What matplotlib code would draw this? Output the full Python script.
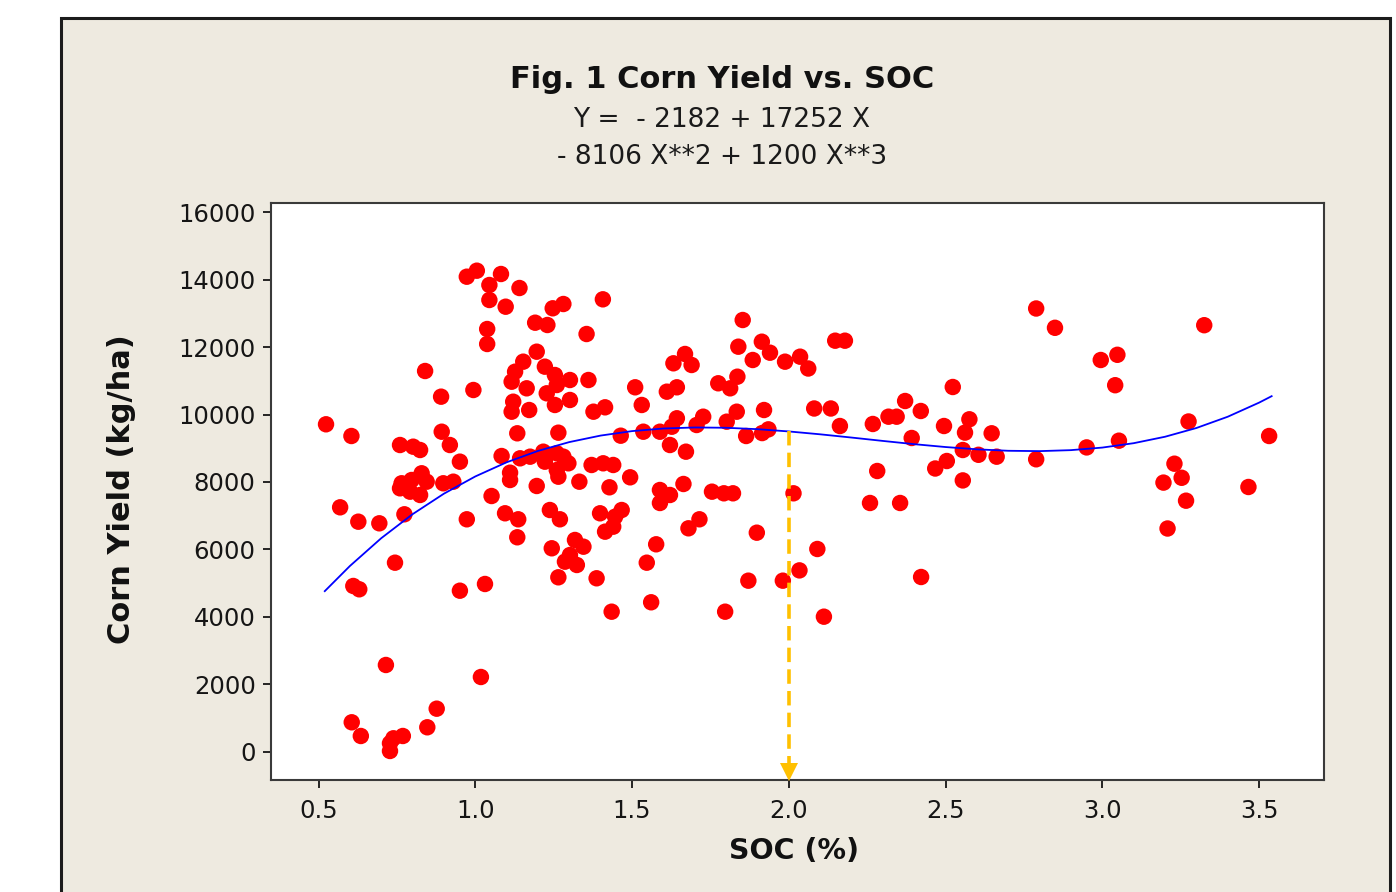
import matplotlib
matplotlib.use("Agg")
import matplotlib.pyplot as plt
from matplotlib.patches import Rectangle

# ---------------- data ----------------
soc = [
    0.524, 0.605, 0.569, 0.627, 0.694, 0.774, 0.744, 0.611, 0.630, 0.715,
    0.606, 0.635, 0.728, 0.728, 0.739, 0.769, 0.847, 0.877, 0.760, 0.802,
    0.824, 0.893, 0.919, 0.951, 0.840, 0.891, 0.765, 0.797, 0.829, 0.845,
    0.824, 0.792, 0.760, 0.898, 0.930, 0.973, 0.973, 1.005, 0.951, 1.018,
    1.082, 1.045, 1.141, 1.045, 1.097, 1.038, 1.038, 0.994, 1.191, 1.196,
    1.153, 1.127, 1.116, 1.164, 1.121, 1.116, 1.172, 1.134, 1.084, 1.143,
    1.175, 1.111, 1.052, 1.111, 1.196, 1.095, 1.137, 1.134, 1.031,
    1.230, 1.247, 1.281, 1.407, 1.355, 1.222, 1.254, 1.302, 1.228, 1.260,
    1.361, 1.302, 1.254, 1.377, 1.414, 1.265, 1.217, 1.222, 1.260, 1.281,
    1.297, 1.260, 1.265, 1.371, 1.408, 1.440, 1.332, 1.428, 1.238, 1.270,
    1.398, 1.446, 1.467, 1.414, 1.440, 1.244, 1.318, 1.345, 1.302, 1.286,
    1.324, 1.265, 1.387, 1.435, 1.464, 1.494,
    1.531, 1.510, 1.632, 1.669, 1.690, 1.611, 1.643, 1.775, 1.813, 1.836,
    1.853, 1.839, 1.885, 1.914, 1.940, 1.988, 2.036, 2.062, 1.643, 1.627,
    1.727, 1.706, 1.834, 1.802, 1.921, 1.536, 1.589, 1.621, 1.672, 1.864,
    1.915, 1.935, 1.664, 1.589, 1.621, 1.589, 1.755, 1.793, 1.822, 2.015,
    1.680, 1.715, 1.898, 1.577, 1.547, 1.561, 1.797, 1.871, 1.981,
    2.034, 2.091, 2.112, 2.422, 2.148, 2.179, 2.523, 2.081, 2.134, 2.163,
    2.371, 2.318, 2.344, 2.421, 2.268, 2.495, 2.576, 2.562, 2.647, 2.392,
    2.555, 2.605, 2.663, 2.789, 2.467, 2.504, 2.282, 2.555, 2.259, 2.355,
    2.789, 2.849,
    3.325, 2.995, 3.048, 3.041, 3.275, 3.532, 2.950, 3.053, 3.230, 3.253,
    3.195, 3.267, 3.466, 3.208,
]
corn_yield = [
    9710, 9363, 7250, 6824, 6776, 7043, 5609, 4919, 4821, 2578,
    880, 474, 258, 30, 406, 474, 732, 1283, 9096, 9046,
    8948, 9490, 9096, 8602, 11289, 10528, 7962, 8059, 8258, 8009,
    7615, 7713, 7813, 7962, 8009, 6895, 14083, 14261, 4779, 2222,
    14163, 13837, 13748, 13393, 13194, 12533, 12089, 10726, 12720, 11861,
    11565, 11268, 10972, 10776, 10379, 10083, 10133, 9443, 8770, 8702,
    8750, 8276, 7585, 8059, 7882, 7073, 6895, 6362, 4978,
    12652, 13147, 13274, 13413, 12385, 11417, 11170, 11022, 10628, 10874,
    11022, 10430, 10282, 10083, 10213, 9461, 8898, 8602, 8850, 8750,
    8554, 8356, 8157, 8504, 8554, 8504, 8009, 7843, 7170, 6895,
    7073, 6972, 7170, 6528, 6676, 6036, 6282, 6083, 5837, 5639,
    5541, 5176, 5147, 4157, 9372, 8139,
    10282, 10806, 11517, 11793, 11467, 10676, 10806, 10925, 10776, 11120,
    12800, 12009, 11615, 12157, 11831, 11565, 11713, 11363, 9888, 9638,
    9935, 9689, 10083, 9787, 10133, 9490, 9490, 9096, 8898, 9363,
    9450, 9560, 7941, 7763, 7615, 7378, 7713, 7665, 7665, 7665,
    6628, 6895, 6498, 6154, 5609, 4436, 4157, 5076, 5076,
    5381, 6015, 4009, 5185, 12187, 12187, 10815, 10178, 10178, 9659,
    10400, 9935, 9935, 10104, 9719, 9659, 9858, 9464, 9443, 9304,
    8948, 8806, 8750, 8673, 8400, 8622, 8326, 8047, 7378, 7378,
    13141, 12569,
    12646, 11615, 11769, 10868, 9793, 9363, 9025, 9224, 8542, 8125,
    7982, 7446, 7852, 6622,
]

# fitted cubic curve as drawn (values of the shown equation along the curve)
fit_x = [0.52, 0.6, 0.7, 0.8, 0.9, 1.0, 1.1, 1.2, 1.3, 1.4, 1.5, 1.6, 1.7,
         1.8, 1.9, 2.0, 2.1, 2.2, 2.3, 2.4, 2.5, 2.6, 2.7, 2.8, 2.9, 3.0,
         3.1, 3.2, 3.3, 3.4, 3.5, 3.54]
fit_y = [4766, 5510, 6334, 7046, 7654, 8164, 8584, 8921, 9183, 9376, 9508,
         9585, 9616, 9607, 9565, 9498, 9413, 9317, 9217, 9121, 9036, 8968,
         8925, 8915, 8944, 9020, 9150, 9341, 9600, 9934, 10352, 10543]

arrow_x = 2.0
arrow_top = 9500

x_ticks = [0.5, 1.0, 1.5, 2.0, 2.5, 3.0, 3.5]
x_tick_labels = ["0.5", "1.0", "1.5", "2.0", "2.5", "3.0", "3.5"]
y_ticks = [0, 2000, 4000, 6000, 8000, 10000, 12000, 14000, 16000]
y_tick_labels = ["0", "2000", "4000", "6000", "8000", "10000", "12000", "14000", "16000"]

title = "Fig. 1 Corn Yield vs. SOC"
eq_line1 = "Y =  - 2182 + 17252 X"
eq_line2 = "- 8106 X**2 + 1200 X**3"

# ---------------- figure ----------------
W, H = 1396, 892
fig = plt.figure(figsize=(W / 100, H / 100), dpi=100)
fig.patch.set_facecolor("white")

panel = Rectangle((61 / W, -0.05), (1390 - 61) / W, 1.05 - 18 / H,
                  transform=fig.transFigure, facecolor="#EEEAE0",
                  edgecolor="#1c1c1c", linewidth=2.2, zorder=-10)
fig.add_artist(panel)

ax = fig.add_axes([271 / W, 1 - 780 / H, (1324 - 271) / W, (780 - 203) / H])
ax.set_facecolor("white")
ax.set_xlim(0.3485, 3.707)
ax.set_ylim(-830, 16267)

ax.scatter(soc, corn_yield, s=140, color="#FF0000", edgecolors="none", zorder=3)
ax.plot(fit_x, fit_y, color="#0000FF", linewidth=1.3, zorder=4)

# dashed arrow
ax.plot([arrow_x, arrow_x], [arrow_top, -520], color="#FFC000", linewidth=2.6,
        linestyle=(0, (4, 2.0)), zorder=5, clip_on=False)
ax.plot([arrow_x], [-600], marker="v", markersize=13, color="#FFC000",
        markeredgewidth=0, zorder=5, clip_on=False)

ax.set_xticks(x_ticks)
ax.set_xticklabels(x_tick_labels)
ax.set_yticks(y_ticks)
ax.set_yticklabels(y_tick_labels)
ax.tick_params(axis="both", direction="out", length=6, width=1.3,
               labelsize=17.5, colors="#151515", pad=5)
ax.tick_params(axis="x", pad=8)
for sp in ax.spines.values():
    sp.set_color("#3a3a3a")
    sp.set_linewidth(1.5)

fig.text(794 / W, 1 - 851 / H, "SOC (%)", ha="center", va="center",
         fontsize=20.5, fontweight="bold", color="#111111")
fig.text(122 / W, 1 - 489 / H, "Corn Yield (kg/ha)", ha="center", va="center",
         rotation=90, fontsize=22, fontweight="bold", color="#111111")

fig.text(722 / W, 1 - 80 / H, title, ha="center", va="center",
         fontsize=22, fontweight="bold", color="#111111")
fig.text(722 / W, 1 - 120 / H, eq_line1, ha="center", va="center",
         fontsize=19, color="#1a1a1a")
fig.text(722 / W, 1 - 157 / H, eq_line2, ha="center", va="center",
         fontsize=19, color="#1a1a1a")

fig.savefig("out.png", dpi=100, facecolor=fig.get_facecolor())
